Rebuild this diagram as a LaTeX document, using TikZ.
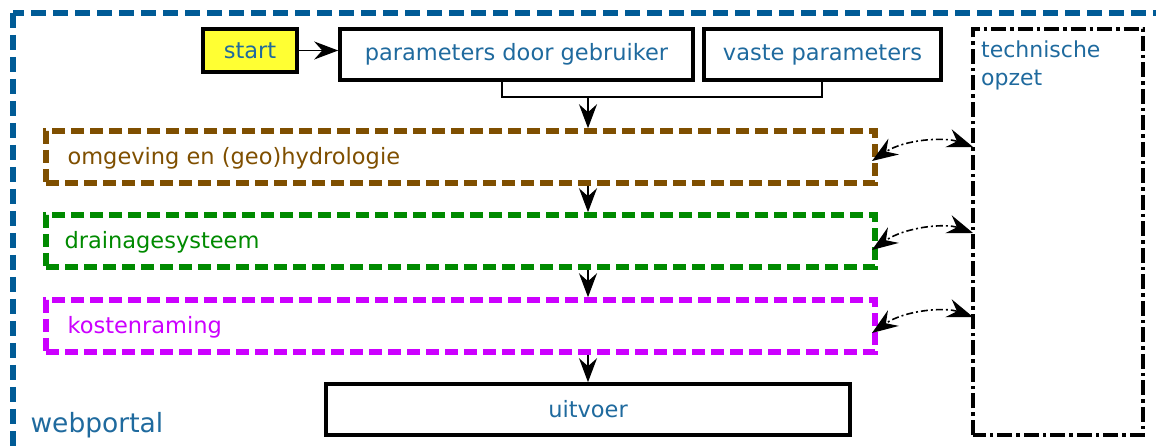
\documentclass[tikz,border=0pt]{standalone}
\usepackage{fontspec}
\setmainfont{DejaVu Sans}
\usetikzlibrary{arrows.meta,calc}
\definecolor{wpblue}{HTML}{005B96}
\definecolor{txtblue}{HTML}{1F6A9E}
\definecolor{cbrown}{HTML}{7F4F00}
\definecolor{cgreen}{HTML}{008A00}
\definecolor{cpurple}{HTML}{CC00FF}
\definecolor{cyellow}{HTML}{FFFF33}
\tikzset{
  plainbox/.style={draw=black, line width=3.6pt, minimum height=51pt, inner sep=0pt, text=txtblue, font=\fontsize{22.5}{27}\selectfont},
  phasebox/.style={line width=5.5pt, dash pattern=on 13pt off 6pt, minimum width=829pt, minimum height=52pt, inner sep=0pt},
  phasetext/.style={anchor=west, font=\fontsize{22.5}{27}\selectfont},
  flow/.style={line width=1.6pt, -{Stealth[length=24pt,width=18pt,inset=8pt]}},
  link/.style={line width=1.6pt, dash pattern=on 7pt off 3pt on 2pt off 3pt, {Stealth[length=26pt,width=19pt,inset=9pt]}-{Stealth[length=26pt,width=19pt,inset=9pt]}},
}
\begin{document}
\begin{tikzpicture}[x=1pt,y=1pt]
\useasboundingbox (0,0) rectangle (1156,447);
\clip (0,0) rectangle (1156,447);
% outer webportal frame
\draw[wpblue, line width=6pt, dash pattern=on 15pt off 7pt] (12.5,434) rectangle (1159,-20);
\node[anchor=base west, text=txtblue, font=\fontsize{26.5}{30}\selectfont] (wp) at (27,15) {webportal};

% top row
\node[plainbox, fill=cyellow, minimum width=94pt, minimum height=43pt] (start) at (250,396.5) {start};
\node[plainbox, minimum width=353pt] (pdg) at (516.5,392.5) {parameters door gebruiker};
\node[plainbox, minimum width=237pt] (vp) at (822.5,392.5) {vaste parameters};
\draw[flow] (start.east) -- (start.east -| pdg.west);

% bracket
\coordinate (bl) at (502,350);
\coordinate (br) at (822,350);
\coordinate (bm) at (588,350);
\draw[line width=1.5pt] (pdg.south -| bl) -- (bl) -- (br) -- (vp.south -| br);

% phases
\node[phasebox, draw=cbrown] (omg) at (460.5,290) {};
\node[phasetext, text=cbrown] (omgt) at (64,289) {omgeving en (geo)hydrologie};
\node[phasebox, draw=cgreen] (dra) at (460.5,206) {};
\node[phasetext, text=cgreen] (drat) at (61,205) {drainagesysteem};
\node[phasebox, draw=cpurple] (kos) at (460.5,121) {};
\node[phasetext, text=cpurple] (kost) at (64,120) {kostenraming};

\node[plainbox, minimum width=524pt] (uit) at (588,37.5) {uitvoer};

% vertical flow
\draw[flow] (bm) -- (bm |- omg.north);
\draw[flow] (bm |- omg.south) -- (bm |- dra.north);
\draw[flow] (bm |- dra.south) -- (bm |- kos.north);
\draw[flow] (bm |- kos.south) -- (uit.north);

% technische opzet
\draw[line width=4pt, dash pattern=on 15pt off 4pt on 3.5pt off 4pt] (973,12) rectangle (1143,418);
\node[anchor=north west, align=left, text=txtblue, inner sep=0pt, font=\fontsize{22}{27.5}\selectfont] (techt) at (981,406) {technische\\opzet};

% links
\coordinate (t1) at (973,300);
\coordinate (t2) at (973,214);
\coordinate (t3) at (973,130);
\coordinate (o1) at (872,286);
\coordinate (o2) at (872,197);
\coordinate (o3) at (872,114);
\draw[link] (t1) .. controls (945,310) and (905,308) .. (o1);
\draw[link] (t2) .. controls (945,224) and (905,220) .. (o2);
\draw[link] (t3) .. controls (945,140) and (905,137) .. (o3);
\end{tikzpicture}
\end{document}
